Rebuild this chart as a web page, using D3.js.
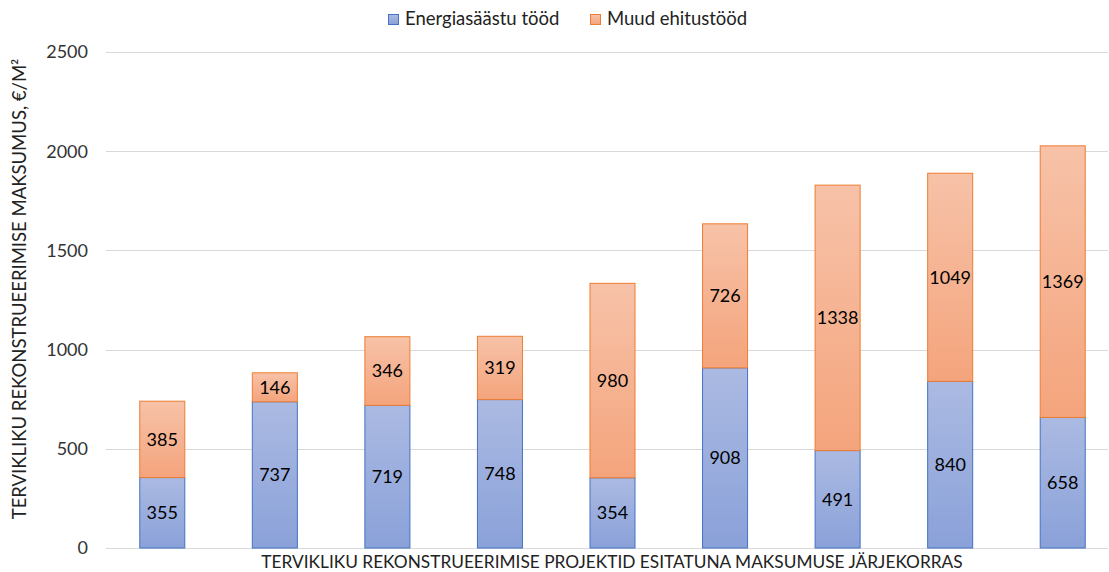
<!DOCTYPE html>
<html>
<head>
<meta charset="utf-8">
<script src="https://cdn.jsdelivr.net/npm/d3@7"></script>
<style>
  body { margin: 0; background: #fff; }
  svg text { font-family: Lato, "Open Sans", sans-serif; fill: #000; }
</style>
</head>
<body>
<svg id="chart" width="1109" height="572"></svg>
<script>
// data
var projects = ["1", "2", "3", "4", "5", "6", "7", "8", "9"];
var energia = [355, 737, 719, 748, 354, 908, 491, 840, 658];
var muud = [385, 146, 346, 319, 980, 726, 1338, 1049, 1369];
var yTicks = [0, 500, 1000, 1500, 2000, 2500];
var seriesNames = ["Energiasäästu tööd", "Muud ehitustööd"];

var svg = d3.select("#chart");
var margin = {left: 106, right: 1, top: 52, bottom: 24};
var W = 1109, H = 572;

// band range runs a bit past the grid so the spacing matches
var x = d3.scaleBand().domain(projects)
  .range([106, 1119]).paddingInner(0.6).paddingOuter(0.3);
var y = d3.scaleLinear().domain([0, 2500]).range([H - margin.bottom, margin.top]);

// gradients
var defs = svg.append("defs");
function grad(id, top, bottom) {
  var g = defs.append("linearGradient").attr("id", id)
    .attr("x1", 0).attr("y1", 0).attr("x2", 0).attr("y2", 1);
  g.append("stop").attr("offset", "0%").attr("stop-color", top);
  g.append("stop").attr("offset", "100%").attr("stop-color", bottom);
}
grad("gBlue", "#abbae2", "#8aa1d9");
grad("gOrange", "#f7c2a8", "#f4a47c");

// grid
svg.append("g").selectAll("line").data(yTicks).enter().append("line")
  .attr("x1", margin.left).attr("x2", W - margin.right)
  .attr("y1", function(d){ return Math.round(y(d)) + 0.5; })
  .attr("y2", function(d){ return Math.round(y(d)) + 0.5; })
  .attr("stroke", "#d9d9d9").attr("stroke-width", 1);

// y axis labels
svg.append("g").selectAll("text").data(yTicks).enter().append("text")
  .attr("x", 88).attr("y", function(d){ return y(d); })
  .attr("dy", "0.35em").attr("text-anchor", "end")
  .style("font-size", "18px").style("fill", "#333")
  .text(function(d){ return d; });

var stacked = projects.map(function(p, i){
  return {p: p, e: energia[i], m: muud[i]};
});

var bars = svg.append("g").selectAll("g").data(stacked).enter().append("g");

bars.append("rect")
  .attr("x", function(d){ return x(d.p); })
  .attr("width", x.bandwidth())
  .attr("y", function(d){ return y(d.e); })
  .attr("height", function(d){ return y(0) - y(d.e); })
  .attr("fill", "url(#gBlue)").attr("stroke", "#4472c4").attr("stroke-width", 1);

bars.append("rect")
  .attr("x", function(d){ return x(d.p); })
  .attr("width", x.bandwidth())
  .attr("y", function(d){ return y(d.e + d.m); })
  .attr("height", function(d){ return y(d.e) - y(d.e + d.m); })
  .attr("fill", "url(#gOrange)").attr("stroke", "#ed7d31").attr("stroke-width", 1);

bars.append("text")
  .attr("x", function(d){ return x(d.p) + x.bandwidth() / 2; })
  .attr("y", function(d){ return y(d.e / 2); })
  .attr("dy", "0.35em").attr("text-anchor", "middle").style("font-size", "18px")
  .text(function(d){ return d.e; });

bars.append("text")
  .attr("x", function(d){ return x(d.p) + x.bandwidth() / 2; })
  .attr("y", function(d){ return y(d.e + d.m / 2); })
  .attr("dy", "0.35em").attr("text-anchor", "middle").style("font-size", "18px")
  .text(function(d){ return d.m; });

// axis titles
svg.append("text").attr("x", 612).attr("y", 568).attr("text-anchor", "middle")
  .style("font-size", "17.3px").style("fill", "#222")
  .text("TERVIKLIKU REKONSTRUEERIMISE PROJEKTID ESITATUNA MAKSUMUSE JÄRJEKORRAS");

svg.append("text")
  .attr("transform", "translate(26," + 289 + ") rotate(-90)")
  .attr("text-anchor", "middle").style("font-size", "18.5px").style("fill", "#222")
  .text("TERVIKLIKU REKONSTRUEERIMISE MAKSUMUS, €/M²");

// legend
var legend = svg.append("g");
var lx = [388, 590];
var lfill = ["url(#gBlue)", "url(#gOrange)"];
var lstroke = ["#4472c4", "#ed7d31"];
seriesNames.forEach(function(n, i){
  legend.append("rect").attr("x", lx[i] + 0.5).attr("y", 14.5).attr("width", 10).attr("height", 10)
    .attr("fill", lfill[i]).attr("stroke", lstroke[i]);
  legend.append("text").attr("x", lx[i] + 17).attr("y", 19).attr("dy", "0.35em")
    .style("font-size", "18.5px").style("fill", "#222").text(n);
});
</script>
</body>
</html>
